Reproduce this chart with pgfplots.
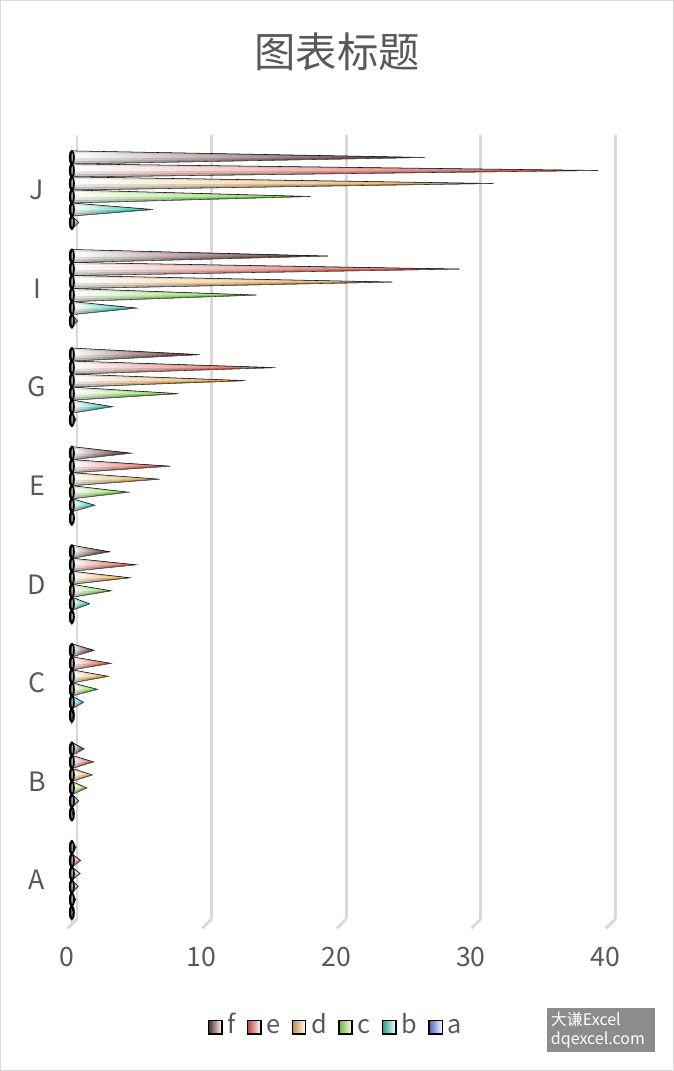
\documentclass[border=0pt]{standalone}
\usepackage{pgfplots}
\pgfplotsset{compat=1.18}
\usepackage{pgfplotstable}
\usepackage{fontspec}
\setmainfont{Noto Sans CJK SC}
\definecolor{txt}{HTML}{595959}
\definecolor{gridc}{HTML}{D9D9D9}
\definecolor{fcol}{RGB}{100,50,50}
\definecolor{ecol}{RGB}{230,90,80}
\definecolor{dcol}{RGB}{240,175,80}
\definecolor{ccol}{RGB}{130,225,70}
\definecolor{bcol}{RGB}{40,205,175}
\definecolor{acol}{RGB}{90,125,235}

\pgfplotstableread{
cat a    b    c    d    e    f
0   0.1  0.28 0.45 0.6  0.65 0.3
1   0.05 0.5  1.1  1.5  1.6  0.9
2   0.1  0.85 1.9  2.7  2.9  1.65
3   0.15 1.3  2.9  4.3  4.75 2.8
4   0.2  1.7  4.2  6.5  7.3  4.4
5   0.3  3.0  7.9  12.9 15.1 9.5
6   0.4  4.8  13.7 23.8 28.8 19.0
7   0.5  6.0  17.7 31.3 39.1 26.2
}\datatable

\pgfplotsset{
  cone/.style={
    only marks, scatter, mark=*, mark size=0pt, mark options={draw=none,fill=none},
    visualization depends on={rawx \as \val},
    scatter/@pre marker code/.code={%
      \pgfmathsetmacro\len{\val*10.095}%
      \fill[white!45!#1] (-\len pt,0pt) ellipse [x radius=1.5pt, y radius=4.9pt];%
      \shade[left color=white, middle color=white!75!#1, right color=#1] (0pt,0pt) -- (-\len pt,4.9pt) -- (-\len pt,-4.9pt) -- cycle;%
      \fill[black, opacity=0.07] (0pt,0pt) -- (-\len pt,4.9pt) -- (-\len pt,3.6pt) -- cycle;%
      \fill[black, opacity=0.10] (0pt,0pt) -- (-\len pt,-1pt) -- (-\len pt,-4.9pt) -- cycle;%
      \fill[black, opacity=0.14] (0pt,0pt) -- (-\len pt,-3pt) -- (-\len pt,-4.9pt) -- cycle;%
      \draw[black!50, line width=0.3pt] (0pt,0pt) -- (-\len pt,-4.9pt);%
      \draw[black, line width=1.2pt] (-\len pt,0pt) ellipse [x radius=1.5pt, y radius=4.9pt];%
      \draw[black, line width=1.6pt] (-\len pt,4.9pt) arc[start angle=90, end angle=270, x radius=1.5pt, y radius=4.9pt];%
    },
    scatter/@post marker code/.code={},
    legend image code/.code={\shade[left color=#1!80!black, right color=white, draw=black, line width=1.1pt] (0pt,-5pt) rectangle (10pt,5pt);},
  },
}

\begin{document}
\begin{tikzpicture}
\path[use as bounding box] (0,0) rectangle (505.5pt,803.25pt);
\draw[gridc, line width=0.75pt] (0.4pt,0.4pt) rectangle (505.1pt,802.85pt);
\node[text=txt, font=\fontsize{31}{36}\selectfont] at (252.75pt,764.25pt) {图表标题};
\begin{axis}[
  at={(54pt,143.25pt)}, anchor=origin,
  x=10.095pt, y=73.93pt,
  xmin=-0.3, xmax=41, ymin=-0.396, ymax=7.558,
  clip=false,
  axis line style={draw=none},
  major tick length=0pt,
  xtick={0,10,20,30,40},
  ytick={0,1,2,3,4,5,6,7},
  yticklabels={A,B,C,D,E,G,I,J},
  xmajorgrids,
  major grid style={draw=gridc, line width=2.2pt, xshift=3.75pt},
  /pgf/number format/assume math mode=true,
  xticklabel style={anchor=center, yshift=-28.5pt, xshift=-3.75pt, text=txt, font=\fontsize{20}{24}\selectfont},
  yticklabel style={anchor=center, xshift=-23.25pt, text=txt, font=\fontsize{20}{24}\selectfont},
  legend columns=-1,
  legend style={at={(0.482,-0.138)}, anchor=center, draw=none, fill=none,
    text=txt, font=\fontsize{19}{22}\selectfont,
    nodes={text height=13pt, text depth=4pt, inner sep=1.5pt},
    /tikz/every odd column/.append style={column sep=2pt},
    /tikz/every even column/.append style={column sep=7pt}},
]
\pgfplotsinvokeforeach{0,10,20,30,40}{
  \draw[gridc, line width=2.2pt] ([xshift=3.75pt]axis cs:#1,-0.396) -- ++(-7pt,-7pt);
}
\addplot[cone=fcol] table[x=f, y expr=\thisrow{cat}+0.33] {\datatable};
\addlegendentry{f}
\addplot[cone=ecol] table[x=e, y expr=\thisrow{cat}+0.198] {\datatable};
\addlegendentry{e}
\addplot[cone=dcol] table[x=d, y expr=\thisrow{cat}+0.066] {\datatable};
\addlegendentry{d}
\addplot[cone=ccol] table[x=c, y expr=\thisrow{cat}-0.066] {\datatable};
\addlegendentry{c}
\addplot[cone=bcol] table[x=b, y expr=\thisrow{cat}-0.198] {\datatable};
\addlegendentry{b}
\addplot[cone=acol] table[x=a, y expr=\thisrow{cat}-0.33] {\datatable};
\addlegendentry{a}
\end{axis}
\fill[black!45] (410.25pt,14.25pt) rectangle (491.25pt,47.25pt);
\node[text=white, font=\fontsize{12}{14}\selectfont, align=left, anchor=west, inner sep=1pt] at (412pt,30.75pt) {大谦Excel\\dqexcel.com};
\end{tikzpicture}
\end{document}
